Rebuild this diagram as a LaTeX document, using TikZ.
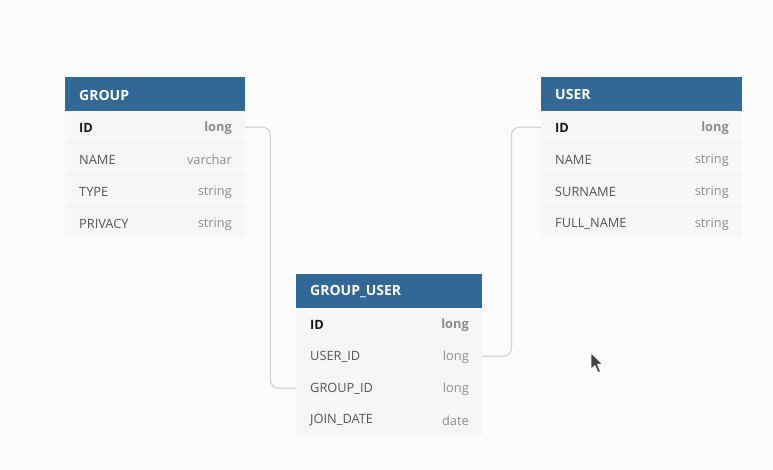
\documentclass[tikz,border=0pt]{standalone}
\usepackage{fontspec}
\setmainfont{Open Sans}
\definecolor{bg}{HTML}{FBFBFB}
\definecolor{hdr}{HTML}{316896}
\definecolor{rowbg}{HTML}{F6F6F6}
\definecolor{rowline}{HTML}{F1F1F1}
\definecolor{fname}{HTML}{555555}
\definecolor{ftype}{HTML}{8C8C8C}
\definecolor{conncol}{HTML}{D2D2D2}
\definecolor{cursorcol}{HTML}{444444}
\tikzset{
  hdrbox/.style={fill=hdr, draw=none, inner sep=0pt, minimum height=34pt, anchor=north west},
  rowbox/.style={fill=rowbg, draw=none, inner sep=0pt, minimum height=32pt, anchor=north west},
  hdrtext/.style={text=white, font=\fontsize{14}{16}\selectfont\bfseries, anchor=west, inner sep=0pt},
  nametext/.style={text=fname, font=\fontsize{12.8}{15}\selectfont, anchor=west, inner sep=0pt},
  typetext/.style={text=ftype, font=\fontsize{12.8}{15}\selectfont, anchor=east, inner sep=0pt},
  pkname/.style={text=black!90, font=\fontsize{12.8}{15}\selectfont\bfseries, anchor=west, inner sep=0pt},
  pktype/.style={text=ftype, font=\fontsize{12.8}{15}\selectfont\bfseries, anchor=east, inner sep=0pt},
  conn/.style={draw=conncol, line width=1.2pt, rounded corners=8pt},
  divider/.style={draw=rowline, line width=0.8pt}
}
\begin{document}
\begin{tikzpicture}[x=1pt,y=-1pt]
\fill[bg] (0,0) rectangle (773,470);
\useasboundingbox (0,0) rectangle (773,470);

% ---------- GROUP ----------
\node[hdrbox, minimum width=180pt] (gh) at (65,77) {};
\node[rowbox, minimum width=180pt] (g1) at (65,111) {};
\node[rowbox, minimum width=180pt] (g2) at (65,143) {};
\node[rowbox, minimum width=180pt] (g3) at (65,175) {};
\node[rowbox, minimum width=180pt] (g4) at (65,207) {};
\draw[divider] (g2.north west) -- (g2.north east);
\draw[divider] (g3.north west) -- (g3.north east);
\draw[divider] (g4.north west) -- (g4.north east);
\node[hdrtext] (ght) at (79,95) {GROUP};
\node[pkname] (g1n) at (79,128) {ID};
\node[pktype] (g1t) at (232,128) {long};
\node[nametext] (g2n) at (79,160) {NAME};
\node[typetext] (g2t) at (232,160) {varchar};
\node[nametext] (g3n) at (79,192) {TYPE};
\node[typetext] (g3t) at (232,192) {string};
\node[nametext] (g4n) at (79,224) {PRIVACY};
\node[typetext] (g4t) at (232,224) {string};

% ---------- USER ----------
\node[hdrbox, minimum width=201pt] (uh) at (541,77) {};
\node[rowbox, minimum width=201pt] (u1) at (541,111) {};
\node[rowbox, minimum width=201pt] (u2) at (541,143) {};
\node[rowbox, minimum width=201pt] (u3) at (541,175) {};
\node[rowbox, minimum width=201pt] (u4) at (541,207) {};
\draw[divider] (u2.north west) -- (u2.north east);
\draw[divider] (u3.north west) -- (u3.north east);
\draw[divider] (u4.north west) -- (u4.north east);
\node[hdrtext] (uht) at (555,95) {USER};
\node[pkname] (u1n) at (555,128) {ID};
\node[pktype] (u1t) at (729,128) {long};
\node[nametext] (u2n) at (555,160) {NAME};
\node[typetext] (u2t) at (729,160) {string};
\node[nametext] (u3n) at (555,192) {SURNAME};
\node[typetext] (u3t) at (729,192) {string};
\node[nametext] (u4n) at (555,224) {FULL\_NAME};
\node[typetext] (u4t) at (729,224) {string};

% ---------- GROUP_USER ----------
\node[hdrbox, minimum width=186pt] (kh) at (296,274) {};
\node[rowbox, minimum width=186pt] (k1) at (296,308) {};
\node[rowbox, minimum width=186pt] (k2) at (296,340) {};
\node[rowbox, minimum width=186pt] (k3) at (296,372) {};
\node[rowbox, minimum width=186pt] (k4) at (296,404) {};
\draw[divider] (k2.north west) -- (k2.north east);
\draw[divider] (k3.north west) -- (k3.north east);
\draw[divider] (k4.north west) -- (k4.north east);
\node[hdrtext] (kht) at (310,292) {GROUP\_USER};
\node[pkname] (k1n) at (310,325) {ID};
\node[pktype] (k1t) at (469,325) {long};
\node[nametext] (k2n) at (310,357) {USER\_ID};
\node[typetext] (k2t) at (469,357) {long};
\node[nametext] (k3n) at (310,389) {GROUP\_ID};
\node[typetext] (k3t) at (469,389) {long};
\node[nametext] (k4n) at (310,420.5) {JOIN\_DATE};
\node[typetext] (k4t) at (469,420.5) {date};

% ---------- connectors ----------
\draw[conn] (g1.east) -- ++(25,0) |- (k3.west);
\draw[conn] (k2.east) -- ++(29,0) |- (u1.west);

% ---------- cursor ----------
\fill[cursorcol, draw=white, line width=0.6pt, line join=round]
  (591,353) -- (591,369) -- (595,365.5) -- (598,372.5) -- (600.5,371.5) -- (597.5,364.5) -- (602.5,364.5) -- cycle;
\end{tikzpicture}
\end{document}
